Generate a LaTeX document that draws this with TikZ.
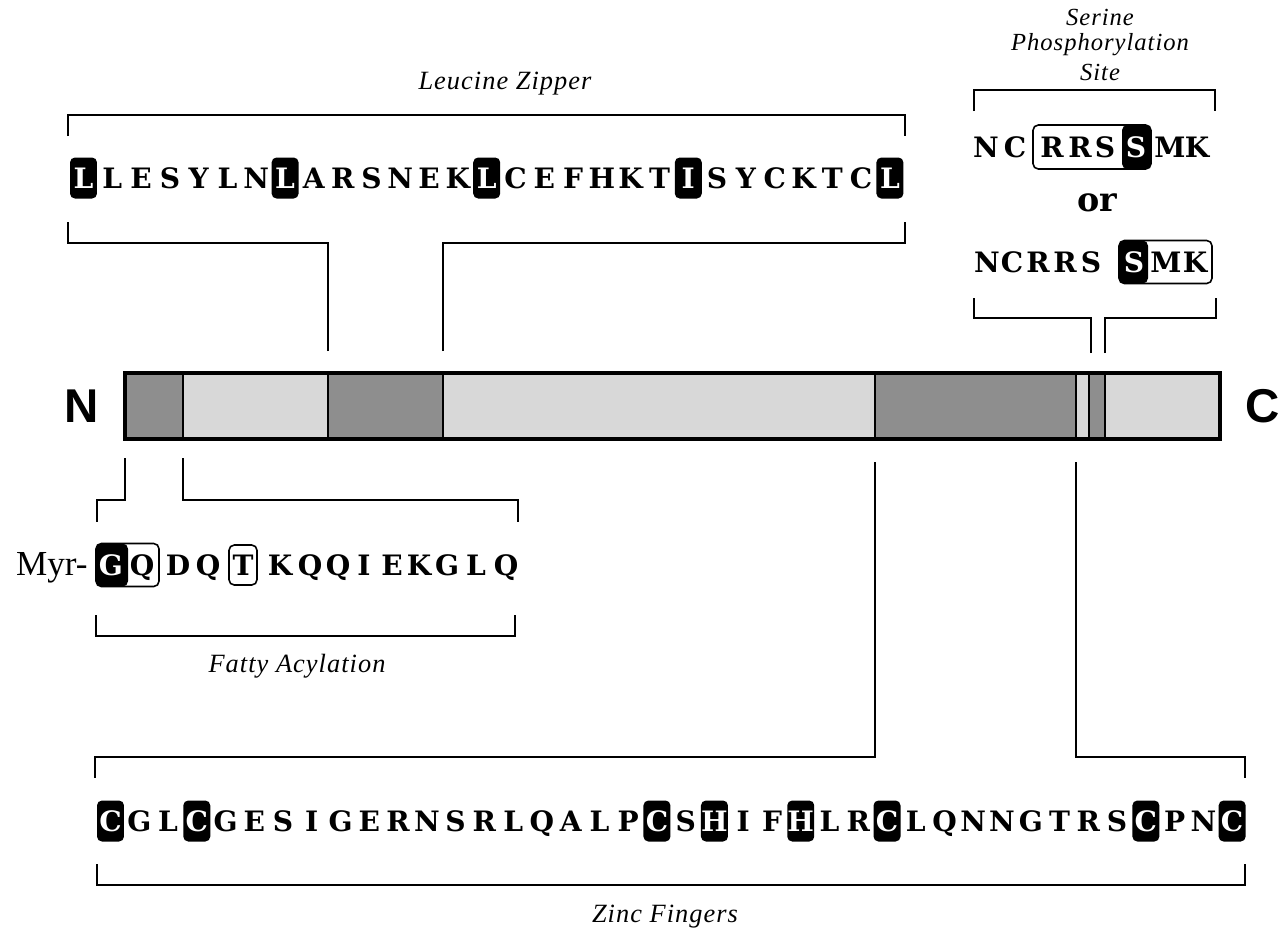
\documentclass[tikz,border=0pt]{standalone}
\usepackage{fontspec}
\setmainfont{Liberation Serif}
\newfontfamily\seqfont{DejaVu Serif}
\newfontfamily\labfont{Liberation Serif}[LetterSpace=4]
\newfontfamily\endfont{Liberation Sans}
\usepackage{tikz}
\usetikzlibrary{positioning}
\definecolor{domDark}{HTML}{8E8E8E}
\definecolor{domLight}{HTML}{D8D8D8}
\newcommand{\seqrow}[5]{%
  \foreach \ltr/\st [count=\i from 0] in {#5} {\node[\st] (#1\i) at ({#2+#3*\i},#4) {\ltr};}
}

\begin{document}
\begin{tikzpicture}[x=0.02cm, y=-0.02cm,
  res/.style={font=\seqfont\bfseries\fontsize{16}{19}\selectfont, inner sep=0pt, text height=11.7pt, text depth=0pt},
  neg/.style={res, text=white},
  hi/.style={res, fill=black, text=white, rounded corners=2.8pt, minimum width=0.54cm, minimum height=0.82cm},
  ring/.style={res, draw, line width=0.9pt, rounded corners=3pt, minimum width=0.56cm, minimum height=0.8cm},
  lab/.style={font=\labfont\itshape\fontsize{15}{17}\selectfont, inner sep=0pt},
  brk/.style={line width=1.1pt},
  seg/.style={draw, line width=1.1pt, minimum height=1.32cm, inner sep=0pt, outer sep=0pt},
  term/.style={font=\endfont\bfseries\fontsize{27}{30}\selectfont, inner sep=0pt}]
  \useasboundingbox (0,0) rectangle (1284,934);

  % protein bar
  \foreach \a/\b/\c [count=\i] in {125/183/domDark, 183/328/domLight, 328/443/domDark, 443/875/domLight,
      875/1076/domDark, 1076/1089/domLight, 1089/1105/domDark, 1105/1220/domLight}
    \node[seg, fill=\c, minimum width={(\b-\a)*0.02cm}] (seg\i) at ({(\a+\b)/2},406) {};
  \draw[line width=2pt] (seg1.north west) rectangle (seg8.south east);
  \node[term, left=0.52cm of seg1] (nterm) {N};
  \node[term, right=0.5cm of seg8] (cterm) {C};

  % leucine zipper
  \node[lab] (lzlab) at (505,84) {Leucine Zipper};
  \seqrow{lz}{83.5}{28.8}{178}{L/hi,L/res,E/res,S/res,Y/res,L/res,N/res,L/hi,A/res,R/res,S/res,N/res,E/res,K/res,
    L/hi,C/res,E/res,F/res,H/res,K/res,T/res,I/hi,S/res,Y/res,C/res,K/res,T/res,C/res,L/hi}
  \coordinate (lzTL) at (68,115);
  \coordinate (lzTR) at (905,115);
  \coordinate (lzBL) at (68,243);
  \coordinate (lzBR) at (905,243);
  \draw[brk] (lzTL) ++(0,21) -- (lzTL) -- (lzTR) -- ++(0,21);
  \draw[brk] ([yshift=0.44cm]seg3.north west) |- (lzBL) -- ++(0,-21);
  \draw[brk] ([yshift=0.44cm]seg4.north west) |- (lzBR) -- ++(0,-21);

  % serine phosphorylation site
  \node[lab, font=\labfont\itshape\fontsize{14}{16}\selectfont] (splab1) at (1100,17) {Serine};
  \node[lab, font=\labfont\itshape\fontsize{14}{16}\selectfont] (splab2) at (1100,45) {Phosphorylation};
  \node[lab, font=\labfont\itshape\fontsize{14}{16}\selectfont] (splab3) at (1100,72) {Site};
  \node[draw, line width=0.9pt, rounded corners=3pt, minimum width=2.36cm, minimum height=0.88cm,
    path picture={\fill (path picture bounding box.north east) rectangle ([xshift=-0.58cm]path picture bounding box.south east);}]
    (spbox1) at (1092,147) {};
  \foreach \x/\ltr/\st [count=\i] in {986/N/res, 1015/C/res, 1052/R/res, 1080/R/res, 1105/S/res,
      1136/S/neg, 1170/M/res, 1197/K/res}
    \node[\st] (spa\i) at (\x,147) {\ltr};
  \node[font=\seqfont\bfseries\fontsize{19}{22}\selectfont, inner sep=0pt] (spor) at (1097,203) {or};
  \node[draw, line width=0.9pt, rounded corners=3pt, minimum width=1.86cm, minimum height=0.86cm,
    path picture={\fill (path picture bounding box.north west) rectangle ([xshift=0.58cm]path picture bounding box.south west);}]
    (spbox2) at (1165.5,262) {};
  \foreach \x/\ltr/\st [count=\i] in {987/N/res, 1012/C/res, 1038/R/res, 1065/R/res, 1091/S/res,
      1134/S/neg, 1166/M/res, 1195/K/res}
    \node[\st] (spb\i) at (\x,262) {\ltr};
  \coordinate (spTL) at (974,90);
  \coordinate (spTR) at (1215,90);
  \coordinate (spBL) at (974,318);
  \coordinate (spBR) at (1216,318);
  \draw[brk] (spTL) ++(0,21) -- (spTL) -- (spTR) -- ++(0,21);
  \draw[brk] ([xshift=0.04cm, yshift=0.4cm]seg7.north west) |- (spBL) -- ++(0,-20);
  \draw[brk] ([yshift=0.4cm]seg8.north west) |- (spBR) -- ++(0,-20);

  % fatty acylation
  \node[anchor=base east, font=\fontsize{20}{22}\selectfont, inner sep=0pt] (myr) at (88,575) {Myr-};
  \node[draw, line width=0.9pt, rounded corners=3pt, minimum width=1.26cm, minimum height=0.86cm,
    path picture={\fill (path picture bounding box.north west) rectangle ([xshift=0.64cm]path picture bounding box.south west);}]
    (gqbox) at (127.5,565) {};
  \node[neg] (fa1) at (111,565) {G};
  \node[res] (fa2) at (142,565) {Q};
  \node[ring] (fa5) at (243,565) {T};
  \foreach \x/\ltr [count=\i from 3] in {178/D, 208/Q, 280/K, 310/Q, 338/Q, 364/I, 392/E, 419/K, 447/G, 476/L, 506/Q}
    \node[res] (fb\i) at (\x,565) {\ltr};
  \coordinate (faTL) at (97,500);
  \coordinate (faTR) at (518,500);
  \coordinate (faBL) at (96,636);
  \coordinate (faBR) at (515,636);
  \draw[brk] ([yshift=-0.38cm]seg1.south west) |- (faTL) -- ++(0,22);
  \draw[brk] ([yshift=-0.38cm]seg2.south west) |- (faTR) -- ++(0,22);
  \draw[brk] (faBL) ++(0,-21) -- (faBL) -- (faBR) -- ++(0,-21);
  \node[lab] (falab) at (297,666) {Fatty Acylation};

  % zinc fingers
  \seqrow{zn}{110.5}{28.76}{821}{C/hi,G/res,L/res,C/hi,G/res,E/res,S/res,I/res,G/res,E/res,R/res,N/res,S/res,R/res,
    L/res,Q/res,A/res,L/res,P/res,C/hi,S/res,H/hi,I/res,F/res,H/hi,L/res,R/res,C/hi,L/res,Q/res,N/res,N/res,
    G/res,T/res,R/res,S/res,C/hi,P/res,N/res,C/hi}
  \coordinate (znTL) at (95,757);
  \coordinate (znTR) at (1245,757);
  \coordinate (znBL) at (97,885);
  \coordinate (znBR) at (1245,885);
  \draw[brk] ([yshift=-0.46cm]seg5.south west) |- (znTL) -- ++(0,21);
  \draw[brk] ([yshift=-0.46cm]seg6.south west) |- (znTR) -- ++(0,21);
  \draw[brk] (znBL) ++(0,-21) -- (znBL) -- (znBR) -- ++(0,-21);
  \node[lab] (znlab) at (665,917) {Zinc Fingers};
\end{tikzpicture}
\end{document}
